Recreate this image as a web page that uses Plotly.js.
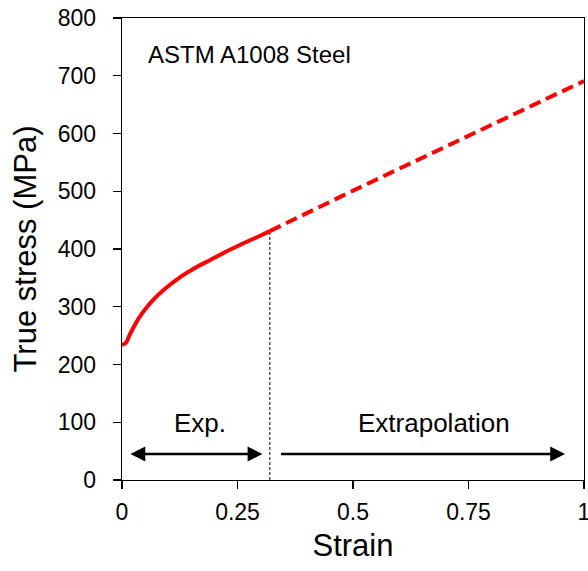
<!DOCTYPE html>
<html>
<head>
<meta charset="utf-8">
<script src="https://cdn.plot.ly/plotly-3.0.1.min.js"></script>
<style>html,body{margin:0;padding:0;background:#fff;}#chart{width:588px;height:571px;}</style>
</head>
<body>
<div id="chart"></div>
<script>
const expStrain = [0.000, 0.008, 0.017, 0.028, 0.043, 0.064, 0.093, 0.129, 0.155, 0.191, 0.227, 0.263, 0.299, 0.320];
const expStress = [234, 237, 252, 269, 288, 309, 331, 353, 366, 381, 396, 410, 423, 431];
// Extrapolated part
const extStrain = [0.320, 0.50, 0.75, 1.00];
const extStress = [431, 501, 596, 691];
// Boundary between experiment and extrapolation
const boundaryStrain = [0.320, 0.320];
const boundaryStress = [0, 431];
const xTicks = [0, 0.25, 0.5, 0.75, 1];
const xTickText = ['0', '0.25', '0.5', '0.75', '1'];
const yTicks = [0, 100, 200, 300, 400, 500, 600, 700, 800];

const FONT = 'Arial, "Liberation Sans", sans-serif';

const traces = [
  {x: boundaryStrain, y: boundaryStress, mode: 'lines', line: {color: '#000', width: 1, dash: '3px,2px'}, hoverinfo: 'skip', showlegend: false},
  {x: expStrain, y: expStress, mode: 'lines', line: {color: '#ff0000', width: 4, shape: 'spline', smoothing: 1}, showlegend: false},
  {x: extStrain, y: extStress, mode: 'lines', line: {color: '#ff0000', width: 4, dash: '12px,6px'}, showlegend: false}
];

const layout = {
  width: 588, height: 571,
  margin: {l: 122, r: 4, t: 18, b: 91},
  paper_bgcolor: '#fff', plot_bgcolor: '#fff',
  font: {family: FONT, color: '#000', size: 23},
  showlegend: false,
  xaxis: {
    range: [0, 1], tickvals: xTicks, ticktext: xTickText,
    ticks: 'outside', ticklen: 8, tickwidth: 1.3, tickcolor: '#000',
    showline: true, linecolor: '#000', linewidth: 1.3, mirror: true,
    showgrid: false, zeroline: false, ticklabeloverflow: 'allow',
    ticklabelstandoff: 3,
    tickfont: {size: 23, family: FONT},
    title: {text: 'Strain', font: {size: 31, family: FONT}, standoff: 10}
  },
  yaxis: {
    range: [0, 800], tickvals: yTicks,
    ticks: 'outside', ticklen: 8, tickwidth: 1.3, tickcolor: '#000',
    showline: true, linecolor: '#000', linewidth: 1.3, mirror: true,
    showgrid: false, zeroline: false, ticklabeloverflow: 'allow',
    ticklabelstandoff: 12,
    tickfont: {size: 23, family: FONT},
    title: {text: 'True stress (MPa)', font: {size: 31, family: FONT}, standoff: 12}
  },
  annotations: [
    {x: 0.051, y: 737, xref: 'x', yref: 'y', text: 'ASTM A1008 Steel', showarrow: false, xanchor: 'left', yanchor: 'middle', font: {size: 24, family: FONT}},
    {x: 0.169, y: 98, xref: 'x', yref: 'y', text: 'Exp.', showarrow: false, xanchor: 'center', yanchor: 'middle', font: {size: 26, family: FONT}},
    {x: 0.675, y: 98, xref: 'x', yref: 'y', text: 'Extrapolation', showarrow: false, xanchor: 'center', yanchor: 'middle', font: {size: 26, family: FONT}},
    {x: 0.304, y: 45, ax: 0.015, ay: 45, xref: 'x', yref: 'y', axref: 'x', ayref: 'y', text: '', showarrow: true,
     arrowhead: 2, startarrowhead: 2, arrowside: 'end+start', arrowwidth: 2.7, arrowsize: 1.1, startarrowsize: 1.1, arrowcolor: '#000'},
    {x: 0.959, y: 45, ax: 0.341, ay: 45, xref: 'x', yref: 'y', axref: 'x', ayref: 'y', text: '', showarrow: true,
     arrowhead: 2, arrowside: 'end', arrowwidth: 2.7, arrowsize: 1.1, arrowcolor: '#000'}
  ]
};

Plotly.newPlot('chart', traces, layout, {displayModeBar: false, staticPlot: true});
</script>
</body>
</html>
